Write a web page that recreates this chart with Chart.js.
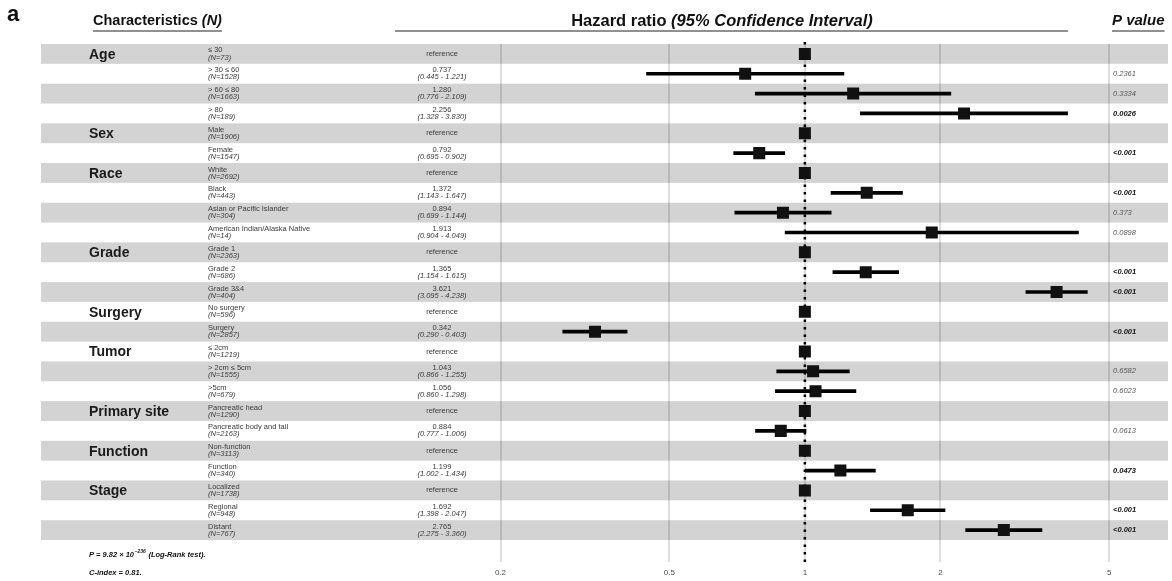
<!DOCTYPE html>
<html lang="en">
<head>
<meta charset="utf-8">
<title>Hazard ratio forest plot</title>
<script src="https://cdn.jsdelivr.net/npm/chart.js@4/dist/chart.umd.min.js"></script>
<style>
  html, body { margin: 0; padding: 0; background: #fff; }
  canvas { display: block; }
</style>
</head>
<body>
<canvas id="forest" width="1172" height="581"></canvas>
<script>
// variaveis e seus subgrupos (na ordem do grafico)
const groupNames = ["Age", "Sex", "Race", "Grade", "Surgery", "Tumor", "Primary site", "Function", "Stage"];
const groupSizes = [4, 2, 4, 3, 2, 3, 2, 2, 3];

const subgroups = [
    "≤ 30", "> 30 ≤ 60", "> 60 ≤ 80", "> 80",
    "Male", "Female",
    "White", "Black", "Asian or Pacific Islander", "American Indian/Alaska Native",
    "Grade 1", "Grade 2", "Grade 3&4",
    "No surgery", "Surgery",
    "≤ 2cm", "> 2cm ≤ 5cm", ">5cm",
    "Pancreatic head", "Pancreatic body and tail",
    "Non-function", "Function",
    "Localized", "Regional", "Distant",
];
const counts = [73, 1528, 1663, 189, 1906, 1547, 2692, 443, 304, 14, 2363, 686, 404, 596, 2857, 1219, 1555, 679, 1290, 2163, 3113, 340, 1738, 948, 767];

// null = categoria de referencia (HR = 1, sem intervalo)
const hazardRatios = [1, 0.737, 1.280, 2.256, 1, 0.792, 1, 1.372, 0.894, 1.913, 1, 1.365, 3.621, 1, 0.342, 1, 1.043, 1.056, 1, 0.884, 1, 1.199, 1, 1.692, 2.765];
const lowerCI = [null, 0.445, 0.776, 1.328, null, 0.695, null, 1.143, 0.699, 0.904, null, 1.154, 3.095, null, 0.290, null, 0.866, 0.860, null, 0.777, null, 1.002, null, 1.398, 2.275];
const upperCI = [null, 1.221, 2.109, 3.830, null, 0.902, null, 1.647, 1.144, 4.049, null, 1.615, 4.238, null, 0.403, null, 1.255, 1.298, null, 1.006, null, 1.434, null, 2.047, 3.360];
const pValues = ["", "0.2361", "0.3334", "0.0026", "", "<0.001", "", "<0.001", "0.373", "0.0898", "", "<0.001", "<0.001", "", "<0.001", "", "0.6582", "0.6023", "", "0.0613", "", "0.0473", "", "<0.001", "<0.001"];

const tickValues = [0.211, 0.5, 1, 2, 4.74];
const tickLabels = ["0.2", "0.5", "1", "2", "5"];

const FONT = "'Liberation Sans', Arial, Helvetica, sans-serif";

function isSignificant(p) {
    return p.startsWith("<") || parseFloat(p) < 0.05;
}

function drawText(ctx, str, x, y, font, color, align = "left") {
    ctx.font = font;
    ctx.fillStyle = color;
    ctx.textAlign = align;
    ctx.fillText(str, x, y);
    return ctx.measureText(str).width;
}

function underline(ctx, x1, x2, y) {
    ctx.strokeStyle = "#222";
    ctx.lineWidth = 1.2;
    ctx.beginPath();
    ctx.moveTo(x1, y);
    ctx.lineTo(x2, y);
    ctx.stroke();
}

const tablePlugin = {
    id: "tabela",
    beforeDraw(chart) {
        // faixas cinzas alternadas atras de tudo
        const { ctx, scales: { y } } = chart;
        const rowH = Math.abs(y.getPixelForValue(1) - y.getPixelForValue(0));
        ctx.save();
        ctx.fillStyle = "#d3d3d3";
        subgroups.forEach((_, i) => {
            if (i % 2) return;
            const py = y.getPixelForValue(i);
            ctx.fillRect(41, py - rowH / 2, 1168 - 41, rowH);
        });
        ctx.restore();
    },
    beforeDatasetsDraw(chart) {
        // linha pontilhada em HR = 1
        const { ctx, scales: { x }, chartArea } = chart;
        const px = x.getPixelForValue(1);
        ctx.save();
        ctx.strokeStyle = "#000";
        ctx.lineWidth = 2.5;
        ctx.setLineDash([2.5, 5]);
        ctx.beginPath();
        ctx.moveTo(px, chartArea.top - 2);
        ctx.lineTo(px, chartArea.bottom + 24);
        ctx.stroke();
        ctx.restore();
    },
    afterDraw(chart) {
        const { ctx, scales: { y } } = chart;
        ctx.save();
        ctx.textBaseline = "middle";

        // cabecalhos
        drawText(ctx, "a", 7, 15, `bold 22px ${FONT}`, "#111");

        let w = drawText(ctx, "Characteristics ", 93, 21, `bold 14.5px ${FONT}`, "#111");
        w += drawText(ctx, "(N)", 93 + w, 21, `italic bold 14.5px ${FONT}`, "#111");
        underline(ctx, 93, 93 + w, 31);

        ctx.font = `bold 16.5px ${FONT}`;
        const hrA = ctx.measureText("Hazard ratio ").width;
        ctx.font = `italic bold 16.5px ${FONT}`;
        const hrB = ctx.measureText("(95% Confidence Interval)").width;
        const hrStart = 722 - (hrA + hrB) / 2;
        drawText(ctx, "Hazard ratio ", hrStart, 21, `bold 16.5px ${FONT}`, "#111");
        drawText(ctx, "(95% Confidence Interval)", hrStart + hrA, 21, `italic bold 16.5px ${FONT}`, "#111");
        underline(ctx, 395, 1068, 31);

        w = drawText(ctx, "P value", 1112, 21, `italic bold 15px ${FONT}`, "#111");
        underline(ctx, 1112, 1112 + w, 31);

        // nomes das variaveis
        let first = 0;
        groupNames.forEach((name, g) => {
            drawText(ctx, name, 89, y.getPixelForValue(first) + 1, `bold 14px ${FONT}`, "#1a1a1a");
            first += groupSizes[g];
        });

        subgroups.forEach((name, i) => {
            const py = y.getPixelForValue(i);
            drawText(ctx, name, 208, py - 3.5, `7.5px ${FONT}`, "#3a3a3a");
            drawText(ctx, `(N=${counts[i]})`, 208, py + 3.5, `italic 7.5px ${FONT}`, "#3a3a3a");

            if (lowerCI[i] == null) {
                drawText(ctx, "reference", 442, py, `7.5px ${FONT}`, "#3a3a3a", "center");
            } else {
                drawText(ctx, hazardRatios[i].toFixed(3), 442, py - 3.5, `7.5px ${FONT}`, "#3a3a3a", "center");
                drawText(ctx, `(${lowerCI[i].toFixed(3)} - ${upperCI[i].toFixed(3)})`, 442, py + 3.5, `italic 7.5px ${FONT}`, "#3a3a3a", "center");
            }

            const p = pValues[i];
            if (p) {
                const sig = isSignificant(p);
                drawText(ctx, p, 1113, py, `italic ${sig ? "bold " : ""}7.5px ${FONT}`, sig ? "#111" : "#555");
            }
        });

        // rodape
        w = drawText(ctx, "P = 9.82 × 10", 89, 555, `italic bold 7.5px ${FONT}`, "#111");
        const sup = drawText(ctx, "−236", 89 + w + 0.5, 552, `italic bold 5px ${FONT}`, "#111");
        drawText(ctx, " (Log-Rank test).", 89 + w + sup + 1, 555, `italic bold 7.5px ${FONT}`, "#111");
        drawText(ctx, "C-index = 0.81.", 89, 573, `italic bold 7.5px ${FONT}`, "#111");

        ctx.restore();
    },
};

document.addEventListener("DOMContentLoaded", () => {
    const ctx = document.getElementById("forest").getContext("2d");

    new Chart(ctx, {
        type: "bar",
        data: {
            labels: subgroups,
            datasets: [
                {
                    type: "line",
                    label: "HR",
                    data: hazardRatios,
                    showLine: false,
                    pointStyle: "rect",
                    pointRadius: 8.5,
                    pointHoverRadius: 8.5,
                    backgroundColor: "#111",
                    borderColor: "#111",
                    borderWidth: 0,
                },
                {
                    label: "95% CI",
                    data: lowerCI.map((lo, i) => (lo == null ? null : [lo, upperCI[i]])),
                    backgroundColor: "#000",
                    barThickness: 3,
                },
            ],
        },
        options: {
            indexAxis: "y",
            responsive: false,
            animation: false,
            events: [],
            layout: { padding: { left: 480, right: 42, top: 44, bottom: 0 } },
            plugins: {
                legend: { display: false },
                tooltip: { enabled: false },
            },
            scales: {
                x: {
                    type: "logarithmic",
                    min: 0.19,
                    max: 5.27,
                    afterBuildTicks: scale => {
                        scale.ticks = tickValues.map(v => ({ value: v }));
                    },
                    afterFit: scale => {
                        scale.height = 41;
                    },
                    ticks: {
                        autoSkip: false,
                        maxRotation: 0,
                        padding: 6,
                        color: "#4d4d4d",
                        font: { family: FONT, size: 8 },
                        callback: (value, index) => tickLabels[index],
                    },
                    grid: { color: "rgba(0,0,0,0.13)", lineWidth: 2, tickLength: 22 },
                    border: { display: false },
                },
                y: {
                    type: "category",
                    display: false,
                    offset: true,
                    grid: { display: false },
                },
            },
        },
        plugins: [tablePlugin],
    });
});
</script>
</body>
</html>
